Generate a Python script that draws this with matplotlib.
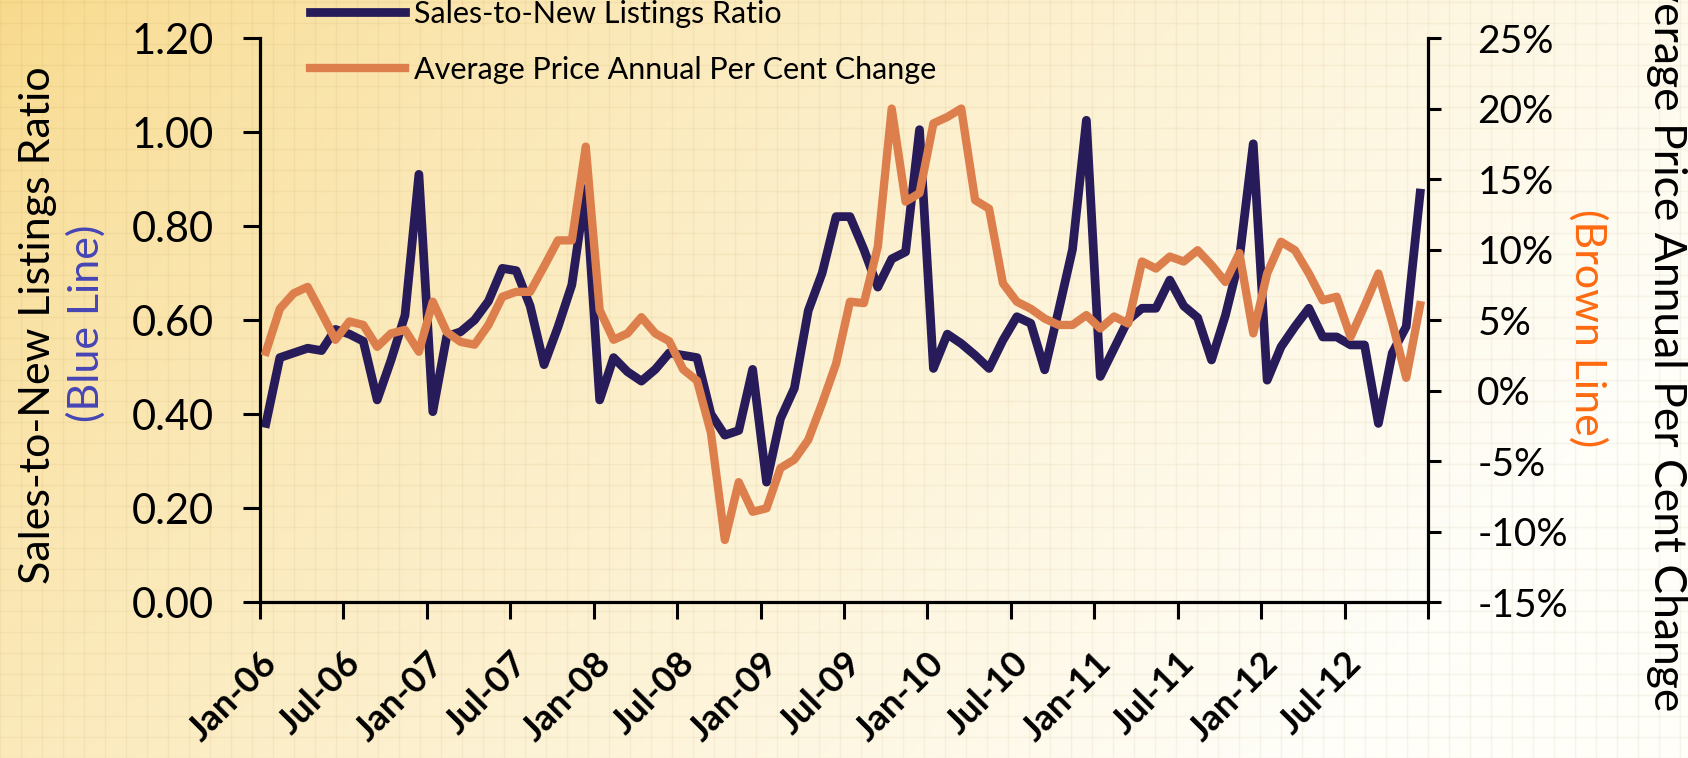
import numpy as np
import matplotlib.pyplot as plt
from matplotlib.transforms import ScaledTranslation

plt.rcParams['font.family'] = ['Lato', 'DejaVu Sans']

tick_labels = ['Jan-06', 'Jul-06', 'Jan-07', 'Jul-07', 'Jan-08', 'Jul-08', 'Jan-09',
               'Jul-09', 'Jan-10', 'Jul-10', 'Jan-11', 'Jul-11', 'Jan-12', 'Jul-12']

# monthly, Jan-06 .. Dec-12
sales_ratio = [0.38, 0.52, 0.53, 0.54, 0.535, 0.58, 0.57, 0.555, 0.43, 0.515, 0.61, 0.91,
               0.405, 0.565, 0.575, 0.60, 0.64, 0.71, 0.705, 0.63, 0.505, 0.585, 0.675, 0.88,
               0.43, 0.52, 0.49, 0.47, 0.495, 0.53, 0.525, 0.52, 0.40, 0.355, 0.365, 0.495,
               0.255, 0.39, 0.455, 0.62, 0.70, 0.82, 0.82, 0.75, 0.67, 0.73, 0.745, 1.005,
               0.497, 0.57, 0.55, 0.525, 0.497, 0.557, 0.607, 0.593, 0.494, 0.62, 0.75, 1.025,
               0.48, 0.54, 0.60, 0.625, 0.625, 0.685, 0.63, 0.605, 0.515, 0.61, 0.73, 0.975,
               0.472, 0.543, 0.586, 0.625, 0.564, 0.564, 0.547, 0.547, 0.38, 0.53, 0.586, 0.87]

price_change = [2.75, 5.8, 6.9, 7.35, 5.5, 3.6, 4.9, 4.65, 3.1, 4.05, 4.3, 2.75,
                6.3, 4.15, 3.45, 3.25, 4.65, 6.65, 7.0, 7.0, 8.8, 10.65, 10.65, 17.3,
                5.7, 3.6, 4.05, 5.2, 4.05, 3.5, 1.5, 0.7, -3.0, -10.6, -6.5, -8.6,
                -8.35, -5.5, -4.9, -3.5, -0.9, 1.9, 6.3, 6.2, 10.2, 20.0, 13.4, 14.0,
                18.95, 19.4, 20.0, 13.5, 12.9, 7.6, 6.3, 5.8, 5.1, 4.65, 4.65, 5.35,
                4.4, 5.25, 4.75, 9.15, 8.65, 9.5, 9.15, 9.95, 8.9, 7.7, 9.75, 4.05,
                8.3, 10.55, 9.95, 8.3, 6.4, 6.65, 3.8, 6.0, 8.3, 4.8, 0.9, 6.05]

months = np.arange(len(sales_ratio))
tick_pos = np.arange(0, 85, 6) - 0.43

fig = plt.figure(figsize=(16.88, 7.58), dpi=100)

# warm gradient background with faint graph paper
bg = fig.add_axes([0, 0, 1, 1], zorder=-10)
yy, xx = np.mgrid[0:1:380j, 0:1:845j]
t = np.clip(0.85 * xx + 0.35 * yy, 0, 1) ** 0.8
warm = np.array([248, 218, 140]) / 255
white = np.array([255, 254, 248]) / 255
img = warm * (1 - t[..., None]) + white * t[..., None]
bg.imshow(img, aspect='auto', extent=(0, 1, 0, 1), origin='upper')
for g in np.arange(0, 1, 21 / 1688):
    bg.axvline(g, color='#9a7a3a', alpha=0.07, lw=1)
for g in np.arange(0, 1, 21 / 758):
    bg.axhline(g, color='#9a7a3a', alpha=0.07, lw=1)
bg.set_xlim(0, 1)
bg.set_ylim(0, 1)
bg.axis('off')

ax = fig.add_axes([0.154, 0.2058, 0.692, 0.744])
ax.set_facecolor('none')
l1, = ax.plot(months, sales_ratio, color='#271B59', lw=6.3)
ax.set_ylim(0, 1.2)
ax.set_xlim(tick_pos[0], tick_pos[-1])
ax.set_yticks(np.arange(0, 1.21, 0.2))
ax.set_yticklabels(['%.2f' % v for v in np.arange(0, 1.21, 0.2)])
ax.set_xticks(tick_pos)
ax.set_xticklabels(tick_labels + [''], rotation=45, ha='right', va='top',
                   rotation_mode='anchor', fontweight='bold', fontsize=26)
shift = ScaledTranslation(6 / 72, 0, fig.dpi_scale_trans)
for lab in ax.get_xticklabels():
    lab.set_transform(lab.get_transform() + shift)
ax.tick_params(axis='y', direction='out', length=12, width=2.2, labelsize=30, pad=21)
ax.tick_params(axis='x', direction='out', length=12, width=2.2, pad=20)
for s in ['top', 'right']:
    ax.spines[s].set_visible(False)
ax.spines['left'].set_linewidth(2.3)
ax.spines['bottom'].set_linewidth(2.3)

ax2 = ax.twinx()
l2, = ax2.plot(months, price_change, color='#DD7F4C', lw=6)
ax2.set_ylim(-15, 25)
ax2.set_yticks(np.arange(-15, 26, 5))
ax2.set_yticklabels(['%d%%' % v for v in np.arange(-15, 26, 5)])
ax2.tick_params(axis='y', direction='out', length=9.5, width=2.2, labelsize=28, pad=26)
for s in ['top', 'left', 'bottom']:
    ax2.spines[s].set_visible(False)
ax2.spines['right'].set_linewidth(2.3)

fig.text(38 / 1688, 1 - 325 / 758, 'Sales-to-New Listings Ratio', rotation=90,
         ha='center', va='center', fontsize=31)
fig.text(86 / 1688, 1 - 323 / 758, '(Blue Line)', rotation=90, color='#4545B5',
         ha='center', va='center', fontsize=31)
fig.text(1588 / 1688, 1 - 328 / 758, '(Brown Line)', rotation=270, color='#FF6A10',
         ha='center', va='center', fontsize=31)
fig.text(1666 / 1688, 1 - 330 / 758, 'Average Price Annual Per Cent Change', rotation=270,
         ha='center', va='center', fontsize=32)

fig.legend([l1, l2], ['Sales-to-New Listings Ratio', 'Average Price Annual Per Cent Change'],
           loc='upper left', bbox_to_anchor=(310 / 1688, 1.0), frameon=False, fontsize=22,
           handlelength=3.1, handletextpad=0.3, labelspacing=0.9, borderpad=0,
           borderaxespad=0)

fig.savefig('out.png', dpi=100)
